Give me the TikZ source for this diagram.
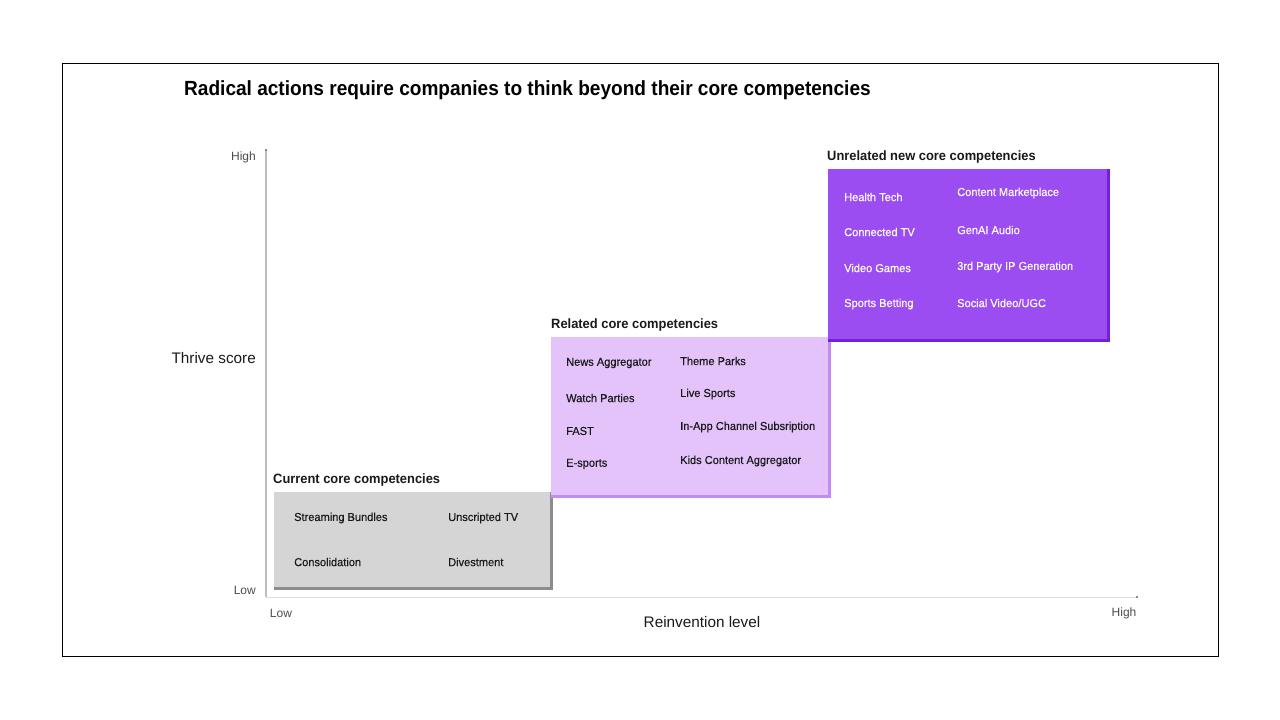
\documentclass[tikz,border=0pt]{standalone}
\usepackage{fontspec}
\setmainfont{Liberation Sans}
\newfontfamily\titlefont[FakeStretch=0.93]{Liberation Sans}
\newfontfamily\itemfont[FakeStretch=0.96,FakeBold=0.35]{Liberation Sans}
\newfontfamily\labfont[FakeStretch=0.955]{Liberation Sans}
\definecolor{grayfill}{HTML}{D5D5D5}
\definecolor{grayedge}{HTML}{8C8C8C}
\definecolor{lightfill}{HTML}{E4C3FB}
\definecolor{lightedge}{HTML}{C28CF2}
\definecolor{darkfill}{HTML}{9B4DF1}
\definecolor{darkedge}{HTML}{7520D6}
\definecolor{axisgray}{HTML}{BDBDBD}
\definecolor{txt}{HTML}{1A1A1A}
\begin{document}
\begin{tikzpicture}[x=1pt,y=-1pt,
  box/.style={anchor=north west, inner sep=0, outer sep=0},
  grouplabel/.style={anchor=west, inner sep=0, font=\labfont\bfseries\fontsize{13.5}{15}\selectfont, text=txt},
  item/.style={anchor=west, inner sep=0, font=\itemfont\fontsize{11.5}{13}\selectfont, text=txt},
  witem/.style={item, text=white},
  axislabel/.style={inner sep=0, font=\fontsize{12}{14}\selectfont, text=black!70},
  axistitle/.style={inner sep=0, font=\fontsize{15.3}{18}\selectfont, text=txt}]
\useasboundingbox (0,0) rectangle (1280,720);
\fill[white] (0,0) rectangle (1280,720);
\node[box, draw=black, line width=1pt, minimum width=1156, minimum height=593] (frame) at (62,63) {};
\node[anchor=west, inner sep=0, font=\titlefont\bfseries\fontsize{20.5}{23}\selectfont, text=black] (title) at (184,90) {Radical actions require companies to think beyond their core competencies};

% axes
\coordinate (ytop) at (266,150);
\coordinate (origin) at (266,597);
\coordinate (xend) at (1137,597);
\draw[axisgray, line width=1.5pt] (origin) -- (ytop);
\draw[black!13, line width=1pt] (origin) -- (xend);
\fill[black!60] (ytop) circle (1.2);
\fill[black!60] (xend) circle (1.2);
\node[axislabel, anchor=east] (yhigh) at (256,157) {High};
\node[axislabel, anchor=east] (ylow) at (256,590) {Low};
\node[axistitle, anchor=east] (ytitle) at (256,358) {Thrive score};
\node[axislabel] (xlow) at (281,613) {Low};
\node[axislabel] (xhigh) at (1124,613) {High};
\node[axistitle] (xtitle) at (702,622) {Reinvention level};

% current
\node[box, fill=grayfill, minimum width=279, minimum height=95] (cur) at (274,492) {};
\draw[grayedge, line width=3pt] ([xshift=-1.5,yshift=0]cur.north east) -- ([xshift=-1.5,yshift=-1.5]cur.south east) -- ([yshift=-1.5]cur.south west);
\node[grouplabel] (curlab) at (273,480) {Current core competencies};
\node[item] at (294,518) {Streaming Bundles};
\node[item] at (448,518) {Unscripted TV};
\node[item] at (294,562) {Consolidation};
\node[item] at (448,562) {Divestment};

% related
\node[box, fill=lightfill, minimum width=280, minimum height=158] (rel) at (551,337) {};
\draw[lightedge, line width=3pt] ([xshift=-1.5]rel.north east) -- ([xshift=-1.5,yshift=-1.5]rel.south east) -- ([yshift=-1.5]rel.south west);
\node[grouplabel] (rellab) at (551,325) {Related core competencies};
\node[item] at (566,363) {News Aggregator};
\node[item] at (566,398) {Watch Parties};
\node[item] at (566,431) {FAST};
\node[item] at (566,464) {E-sports};
\node[item] at (680,361) {Theme Parks};
\node[item] at (680,394) {Live Sports};
\node[item] at (680,427) {In-App Channel Subsription};
\node[item] at (680,461) {Kids Content Aggregator};

% unrelated
\node[box, fill=darkfill, minimum width=282, minimum height=170] (unr) at (828,169) {};
\draw[darkedge, line width=3pt] ([xshift=-1.5]unr.north east) -- ([xshift=-1.5,yshift=-1.5]unr.south east) -- ([yshift=-1.5]unr.south west);
\node[grouplabel] (unrlab) at (827,157) {Unrelated new core competencies};
\node[witem] at (844,197) {Health Tech};
\node[witem] at (844,232) {Connected TV};
\node[witem] at (844,268) {Video Games};
\node[witem] at (844,304) {Sports Betting};
\node[witem] at (957,193) {Content Marketplace};
\node[witem] at (957,230) {GenAI Audio};
\node[witem] at (957,267) {3rd Party IP Generation};
\node[witem] at (957,303) {Social Video/UGC};
\end{tikzpicture}
\end{document}
